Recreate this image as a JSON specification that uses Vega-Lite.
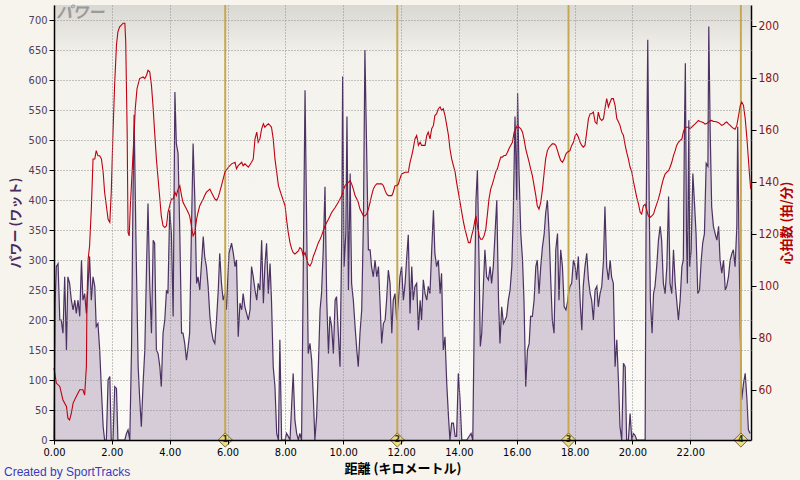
{
"$schema": "https://vega.github.io/schema/vega-lite/v6.json",
"width": 697, "height": 435,
"autosize": {"type": "none"},
"padding": {"left": 54, "top": 5, "right": 49, "bottom": 40},
"background": "#f6f4ec",
"title": {"text": "Created by SportTracks", "orient": "bottom", "anchor": "start", "frame": "group", "dx": -50, "offset": -8, "fontSize": 12, "fontWeight": "normal", "font": "Liberation Sans", "color": "#3a3ac0"},
"config": {
  "view": {"stroke": null, "fill": {"gradient": "linear", "x1": 0, "y1": 0, "x2": 0, "y2": 1, "stops": [{"offset": 0, "color": "#dad8d2"}, {"offset": 0.12, "color": "#f4f2ec"}, {"offset": 1, "color": "#fbfaf6"}]}},
  "axis": {"labelFont": "DejaVu Sans Condensed", "labelFontSize": 11, "labelOverlap": false, "labelFlush": false, "titleFont": "Noto Sans CJK JP", "titleFontSize": 13, "titleFontWeight": "bold", "domainColor": "#000000", "tickColor": "#000000", "gridColor": "#8e8e8e", "gridDash": [1, 2], "gridOpacity": 1}
},
"datasets": {
"power": [
{"km":0.00,"w":0},{"km":0.04,"w":230},{"km":0.08,"w":289},{"km":0.14,"w":294},{"km":0.20,"w":200},{"km":0.25,"w":200},{"km":0.31,"w":178},{"km":0.37,"w":272},{"km":0.43,"w":150},{"km":0.48,"w":272},{"km":0.54,"w":261},{"km":0.60,"w":233},{"km":0.66,"w":217},{"km":0.72,"w":233},{"km":0.77,"w":211},{"km":0.83,"w":233},{"km":0.89,"w":206},{"km":0.95,"w":300},{"km":1.00,"w":233},{"km":1.06,"w":244},{"km":1.12,"w":211},{"km":1.18,"w":261},{"km":1.23,"w":306},{"km":1.29,"w":233},{"km":1.35,"w":272},{"km":1.41,"w":256},{"km":1.46,"w":189},{"km":1.52,"w":194},{"km":1.58,"w":150},{"km":1.64,"w":83},{"km":1.70,"w":22},{"km":1.75,"w":0},{"km":1.81,"w":0},{"km":1.87,"w":100},{"km":1.93,"w":106},{"km":1.98,"w":0},{"km":2.04,"w":0},{"km":2.10,"w":89},{"km":2.16,"w":86},{"km":2.21,"w":0},{"km":2.45,"w":0},{"km":2.50,"w":10},{"km":2.56,"w":17},{"km":2.62,"w":0},{"km":2.68,"w":150},{"km":2.73,"w":400},{"km":2.77,"w":542},{"km":2.83,"w":344},{"km":2.87,"w":233},{"km":2.91,"w":122},{"km":2.96,"w":72},{"km":3.02,"w":22},{"km":3.08,"w":94},{"km":3.14,"w":150},{"km":3.20,"w":289},{"km":3.25,"w":394},{"km":3.31,"w":261},{"km":3.37,"w":178},{"km":3.43,"w":333},{"km":3.48,"w":328},{"km":3.54,"w":150},{"km":3.60,"w":144},{"km":3.66,"w":122},{"km":3.71,"w":89},{"km":3.77,"w":178},{"km":3.83,"w":200},{"km":3.89,"w":250},{"km":3.94,"w":244},{"km":4.00,"w":383},{"km":4.06,"w":344},{"km":4.12,"w":206},{"km":4.18,"w":580},{"km":4.23,"w":494},{"km":4.29,"w":478},{"km":4.35,"w":344},{"km":4.41,"w":178},{"km":4.46,"w":178},{"km":4.52,"w":161},{"km":4.58,"w":133},{"km":4.64,"w":156},{"km":4.69,"w":178},{"km":4.75,"w":344},{"km":4.81,"w":494},{"km":4.87,"w":400},{"km":4.93,"w":261},{"km":4.98,"w":272},{"km":5.04,"w":250},{"km":5.10,"w":294},{"km":5.16,"w":339},{"km":5.21,"w":306},{"km":5.27,"w":289},{"km":5.33,"w":256},{"km":5.39,"w":206},{"km":5.44,"w":183},{"km":5.50,"w":167},{"km":5.56,"w":161},{"km":5.62,"w":200},{"km":5.68,"w":250},{"km":5.73,"w":311},{"km":5.79,"w":261},{"km":5.85,"w":233},{"km":5.91,"w":244},{"km":5.96,"w":217},
{"km":6.05,"w":311},{"km":6.14,"w":328},{"km":6.20,"w":311},{"km":6.26,"w":289},{"km":6.31,"w":300},{"km":6.37,"w":172},{"km":6.43,"w":228},{"km":6.49,"w":217},{"km":6.54,"w":244},{"km":6.60,"w":222},{"km":6.66,"w":211},{"km":6.72,"w":200},{"km":6.78,"w":217},{"km":6.83,"w":289},{"km":6.89,"w":272},{"km":6.95,"w":250},{"km":7.01,"w":233},{"km":7.06,"w":261},{"km":7.12,"w":250},{"km":7.18,"w":333},{"km":7.24,"w":228},{"km":7.29,"w":289},{"km":7.35,"w":328},{"km":7.41,"w":244},{"km":7.47,"w":294},{"km":7.52,"w":233},{"km":7.58,"w":122},{"km":7.64,"w":89},{"km":7.70,"w":11},{"km":7.76,"w":0},{"km":7.81,"w":167},{"km":7.87,"w":0},{"km":7.99,"w":0},{"km":8.04,"w":11},{"km":8.10,"w":6},{"km":8.16,"w":0},{"km":8.22,"w":61},{"km":8.27,"w":111},{"km":8.33,"w":33},{"km":8.39,"w":11},{"km":8.45,"w":0},{"km":8.50,"w":11},{"km":8.56,"w":0},{"km":8.62,"w":289},{"km":8.68,"w":583},{"km":8.74,"w":344},{"km":8.79,"w":144},{"km":8.85,"w":161},{"km":8.91,"w":133},{"km":8.97,"w":67},{"km":9.02,"w":0},{"km":9.08,"w":39},{"km":9.14,"w":122},{"km":9.20,"w":217},{"km":9.25,"w":244},{"km":9.31,"w":317},{"km":9.37,"w":422},{"km":9.43,"w":233},{"km":9.49,"w":144},{"km":9.54,"w":206},{"km":9.60,"w":189},{"km":9.66,"w":144},{"km":9.72,"w":233},{"km":9.77,"w":239},{"km":9.83,"w":178},{"km":9.89,"w":122},{"km":9.95,"w":344},{"km":9.98,"w":606},{"km":10.03,"w":289},{"km":10.09,"w":344},{"km":10.13,"w":539},{"km":10.18,"w":250},{"km":10.24,"w":444},{"km":10.29,"w":261},{"km":10.35,"w":233},{"km":10.41,"w":189},{"km":10.47,"w":150},{"km":10.52,"w":122},{"km":10.58,"w":178},{"km":10.64,"w":217},{"km":10.70,"w":367},{"km":10.75,"w":650},{"km":10.81,"w":483},{"km":10.87,"w":317},{"km":10.93,"w":317},{"km":10.98,"w":289},{"km":11.04,"w":272},{"km":11.10,"w":300},{"km":11.16,"w":272},{"km":11.22,"w":289},{"km":11.27,"w":233},{"km":11.33,"w":161},{"km":11.39,"w":194},{"km":11.45,"w":200},{"km":11.50,"w":233},{"km":11.56,"w":283},{"km":11.62,"w":261},{"km":11.68,"w":178},{"km":11.73,"w":233},{"km":11.79,"w":244},{"km":11.85,"w":200},
{"km":11.91,"w":233},{"km":11.96,"w":272},{"km":12.02,"w":289},{"km":12.08,"w":233},{"km":12.14,"w":261},{"km":12.19,"w":300},{"km":12.25,"w":342},{"km":12.31,"w":211},{"km":12.37,"w":289},{"km":12.42,"w":233},{"km":12.48,"w":256},{"km":12.54,"w":261},{"km":12.60,"w":183},{"km":12.66,"w":233},{"km":12.71,"w":200},{"km":12.77,"w":267},{"km":12.83,"w":244},{"km":12.89,"w":233},{"km":12.94,"w":256},{"km":13.00,"w":244},{"km":13.06,"w":317},{"km":13.12,"w":383},{"km":13.17,"w":311},{"km":13.23,"w":289},{"km":13.29,"w":300},{"km":13.35,"w":244},{"km":13.40,"w":278},{"km":13.46,"w":150},{"km":13.52,"w":172},{"km":13.58,"w":94},{"km":13.64,"w":39},{"km":13.69,"w":0},{"km":13.75,"w":28},{"km":13.81,"w":28},{"km":13.87,"w":6},{"km":13.92,"w":6},{"km":13.98,"w":111},{"km":14.04,"w":67},{"km":14.10,"w":0},{"km":14.27,"w":0},{"km":14.42,"w":11},{"km":14.48,"w":0},{"km":14.54,"w":233},{"km":14.59,"w":400},{"km":14.64,"w":450},{"km":14.70,"w":289},{"km":14.74,"w":156},{"km":14.79,"w":178},{"km":14.85,"w":261},{"km":14.90,"w":317},{"km":14.96,"w":272},{"km":15.02,"w":267},{"km":15.08,"w":289},{"km":15.13,"w":261},{"km":15.19,"w":289},{"km":15.25,"w":344},{"km":15.31,"w":400},{"km":15.37,"w":233},{"km":15.42,"w":161},{"km":15.48,"w":222},{"km":15.54,"w":194},{"km":15.60,"w":200},{"km":15.65,"w":206},{"km":15.71,"w":233},{"km":15.77,"w":250},{"km":15.83,"w":289},{"km":15.88,"w":378},{"km":15.94,"w":539},{"km":16.00,"w":400},{"km":16.03,"w":578},{"km":16.08,"w":444},{"km":16.14,"w":344},{"km":16.20,"w":300},{"km":16.25,"w":233},{"km":16.31,"w":89},{"km":16.37,"w":150},{"km":16.43,"w":161},{"km":16.48,"w":206},{"km":16.54,"w":206},{"km":16.60,"w":233},{"km":16.66,"w":289},{"km":16.71,"w":300},{"km":16.77,"w":244},{"km":16.83,"w":289},{"km":16.89,"w":322},{"km":16.95,"w":344},{"km":17.00,"w":378},{"km":17.06,"w":400},{"km":17.12,"w":344},{"km":17.18,"w":261},{"km":17.23,"w":200},{"km":17.29,"w":178},{"km":17.35,"w":317},{"km":17.41,"w":344},{"km":17.46,"w":233},{"km":17.52,"w":317},{"km":17.58,"w":289},{"km":17.64,"w":222},{"km":17.70,"w":217},{"km":17.75,"w":228},
{"km":17.79,"w":244},{"km":17.84,"w":256},{"km":17.90,"w":261},{"km":17.96,"w":300},{"km":18.02,"w":289},{"km":18.07,"w":267},{"km":18.13,"w":306},{"km":18.19,"w":233},{"km":18.25,"w":183},{"km":18.30,"w":256},{"km":18.36,"w":289},{"km":18.42,"w":311},{"km":18.48,"w":267},{"km":18.54,"w":244},{"km":18.59,"w":233},{"km":18.65,"w":200},{"km":18.71,"w":250},{"km":18.77,"w":256},{"km":18.82,"w":222},{"km":18.88,"w":244},{"km":18.94,"w":256},{"km":19.00,"w":300},{"km":19.05,"w":389},{"km":19.11,"w":289},{"km":19.17,"w":267},{"km":19.23,"w":300},{"km":19.28,"w":272},{"km":19.34,"w":261},{"km":19.40,"w":122},{"km":19.46,"w":167},{"km":19.52,"w":94},{"km":19.57,"w":22},{"km":19.63,"w":0},{"km":19.69,"w":128},{"km":19.75,"w":122},{"km":19.80,"w":0},{"km":19.86,"w":0},{"km":19.92,"w":44},{"km":19.98,"w":0},{"km":20.03,"w":11},{"km":20.09,"w":8},{"km":20.15,"w":0},{"km":20.44,"w":0},{"km":20.47,"w":344},{"km":20.53,"w":667},{"km":20.58,"w":400},{"km":20.62,"w":233},{"km":20.68,"w":178},{"km":20.73,"w":244},{"km":20.78,"w":256},{"km":20.84,"w":289},{"km":20.90,"w":333},{"km":20.96,"w":356},{"km":21.01,"w":333},{"km":21.07,"w":261},{"km":21.13,"w":244},{"km":21.19,"w":289},{"km":21.25,"w":406},{"km":21.30,"w":261},{"km":21.36,"w":244},{"km":21.42,"w":317},{"km":21.48,"w":261},{"km":21.53,"w":233},{"km":21.59,"w":200},{"km":21.65,"w":233},{"km":21.71,"w":289},{"km":21.76,"w":300},{"km":21.80,"w":522},{"km":21.83,"w":628},{"km":21.87,"w":344},{"km":21.90,"w":261},{"km":21.95,"w":533},{"km":21.98,"w":289},{"km":22.03,"w":317},{"km":22.09,"w":444},{"km":22.14,"w":400},{"km":22.20,"w":344},{"km":22.26,"w":244},{"km":22.32,"w":250},{"km":22.38,"w":300},{"km":22.43,"w":328},{"km":22.49,"w":344},{"km":22.55,"w":461},{"km":22.61,"w":456},{"km":22.64,"w":689},{"km":22.69,"w":511},{"km":22.74,"w":389},{"km":22.80,"w":356},{"km":22.86,"w":344},{"km":22.92,"w":333},{"km":22.98,"w":356},{"km":23.03,"w":300},{"km":23.09,"w":278},{"km":23.15,"w":300},{"km":23.21,"w":250},{"km":23.26,"w":256},{"km":23.32,"w":272},{"km":23.38,"w":300},{"km":23.44,"w":311},{"km":23.49,"w":317},{"km":23.55,"w":289},{"km":23.61,"w":356},{"km":23.64,"w":522},{"km":23.68,"w":344},{"km":23.73,"w":178},{"km":23.78,"w":67},{"km":23.84,"w":94},{"km":23.90,"w":111},{"km":23.96,"w":67},{"km":24.01,"w":17},{"km":24.07,"w":11}
],
"hr": [
{"km":0.00,"bpm":68.4},{"km":0.08,"bpm":62.6},{"km":0.20,"bpm":61.3},{"km":0.31,"bpm":56.1},{"km":0.43,"bpm":53.6},{"km":0.48,"bpm":49.1},{"km":0.54,"bpm":48.4},{"km":0.60,"bpm":51},{"km":0.66,"bpm":54.9},{"km":0.77,"bpm":57.4},{"km":0.89,"bpm":60},{"km":1.00,"bpm":60},{"km":1.06,"bpm":58},{"km":1.12,"bpm":69},{"km":1.14,"bpm":94.8},{"km":1.18,"bpm":110.2},{"km":1.23,"bpm":115.3},{"km":1.29,"bpm":129.5},{"km":1.35,"bpm":148.8},{"km":1.41,"bpm":148.8},{"km":1.46,"bpm":152},{"km":1.52,"bpm":150},{"km":1.58,"bpm":150},{"km":1.64,"bpm":148.8},{"km":1.70,"bpm":143.7},{"km":1.75,"bpm":136},{"km":1.81,"bpm":130.8},{"km":1.87,"bpm":125.6},{"km":1.93,"bpm":124.4},{"km":1.98,"bpm":136},{"km":2.04,"bpm":159.1},{"km":2.10,"bpm":178.4},{"km":2.16,"bpm":192.6},{"km":2.21,"bpm":197.7},{"km":2.27,"bpm":199.6},{"km":2.33,"bpm":200.3},{"km":2.39,"bpm":201},{"km":2.45,"bpm":201},{"km":2.48,"bpm":193.9},{"km":2.53,"bpm":159.1},{"km":2.56,"bpm":120.5},{"km":2.60,"bpm":119.2},{"km":2.64,"bpm":130.8},{"km":2.70,"bpm":143.7},{"km":2.76,"bpm":156.5},{"km":2.81,"bpm":168.1},{"km":2.87,"bpm":175.8},{"km":2.96,"bpm":179.7},{"km":3.08,"bpm":180.3},{"km":3.14,"bpm":179.7},{"km":3.20,"bpm":181},{"km":3.25,"bpm":182.9},{"km":3.31,"bpm":182.3},{"km":3.37,"bpm":177.1},{"km":3.43,"bpm":168.1},{"km":3.48,"bpm":159.1},{"km":3.54,"bpm":148.8},{"km":3.60,"bpm":141.1},{"km":3.66,"bpm":133.4},{"km":3.71,"bpm":126.9},{"km":3.77,"bpm":123.1},{"km":3.83,"bpm":122.4},{"km":3.89,"bpm":123.1},{"km":3.94,"bpm":128.2},{"km":4.00,"bpm":130.8},{"km":4.06,"bpm":133.4},{"km":4.12,"bpm":133.4},{"km":4.18,"bpm":136},{"km":4.23,"bpm":134.7},{"km":4.29,"bpm":137.2},{"km":4.35,"bpm":138.5},{"km":4.41,"bpm":134.7},{"km":4.46,"bpm":132.1},{"km":4.58,"bpm":129.5},{"km":4.64,"bpm":128.2},{"km":4.69,"bpm":126.9},{"km":4.75,"bpm":123.1},{"km":4.81,"bpm":119.2},{"km":4.87,"bpm":120.5},{"km":4.93,"bpm":125.6},{"km":4.98,"bpm":128.2},{"km":5.04,"bpm":130.8},{"km":5.10,"bpm":132.1},{"km":5.16,"bpm":133.4},{"km":5.21,"bpm":134.7},{"km":5.27,"bpm":136},{"km":5.33,"bpm":136.6},{"km":5.39,"bpm":137.2},{"km":5.44,"bpm":136},{"km":5.50,"bpm":134.7},{"km":5.56,"bpm":133.4},{"km":5.62,"bpm":132.8},{"km":5.68,"bpm":134.1},{"km":5.73,"bpm":136},{"km":5.79,"bpm":138.5},{"km":5.85,"bpm":141.1},{"km":5.91,"bpm":143.7},
{"km":6.03,"bpm":145.6},{"km":6.14,"bpm":146.9},{"km":6.26,"bpm":147.5},{"km":6.31,"bpm":145},{"km":6.37,"bpm":146.2},{"km":6.49,"bpm":147.5},{"km":6.54,"bpm":146.2},{"km":6.60,"bpm":146.9},{"km":6.72,"bpm":145.6},{"km":6.83,"bpm":147.5},{"km":6.89,"bpm":148.8},{"km":6.95,"bpm":156.5},{"km":7.01,"bpm":159.1},{"km":7.06,"bpm":155.2},{"km":7.12,"bpm":156.5},{"km":7.18,"bpm":160.4},{"km":7.24,"bpm":162.3},{"km":7.29,"bpm":161},{"km":7.35,"bpm":161.7},{"km":7.41,"bpm":162.3},{"km":7.47,"bpm":161.7},{"km":7.52,"bpm":161},{"km":7.58,"bpm":156.5},{"km":7.64,"bpm":148.8},{"km":7.70,"bpm":143.7},{"km":7.76,"bpm":138.5},{"km":7.87,"bpm":134.7},{"km":7.99,"bpm":130.8},{"km":8.04,"bpm":125.6},{"km":8.10,"bpm":120.5},{"km":8.16,"bpm":116.6},{"km":8.22,"bpm":114.1},{"km":8.27,"bpm":112.8},{"km":8.33,"bpm":112.2},{"km":8.39,"bpm":112.8},{"km":8.45,"bpm":113.4},{"km":8.50,"bpm":114.7},{"km":8.56,"bpm":114.1},{"km":8.62,"bpm":111.5},{"km":8.68,"bpm":112.8},{"km":8.74,"bpm":110.2},{"km":8.79,"bpm":108.3},{"km":8.85,"bpm":107.6},{"km":8.91,"bpm":108.9},{"km":8.97,"bpm":111.5},{"km":9.02,"bpm":112.8},{"km":9.08,"bpm":114.7},{"km":9.14,"bpm":116.6},{"km":9.20,"bpm":117.9},{"km":9.25,"bpm":119.2},{"km":9.37,"bpm":123.1},{"km":9.49,"bpm":125.6},{"km":9.60,"bpm":128.2},{"km":9.72,"bpm":130.1},{"km":9.83,"bpm":132.1},{"km":9.89,"bpm":133.4},{"km":9.95,"bpm":134.7},{"km":10.00,"bpm":136.6},{"km":10.06,"bpm":138.5},{"km":10.12,"bpm":139.2},{"km":10.18,"bpm":139.8},{"km":10.24,"bpm":140.4},{"km":10.29,"bpm":139.2},{"km":10.35,"bpm":137.2},{"km":10.41,"bpm":134.7},{"km":10.47,"bpm":133.4},{"km":10.52,"bpm":132.1},{"km":10.58,"bpm":129.5},{"km":10.64,"bpm":128.2},{"km":10.70,"bpm":126.9},{"km":10.75,"bpm":126.9},{"km":10.81,"bpm":127.6},{"km":10.87,"bpm":129.5},{"km":10.93,"bpm":132.1},{"km":10.98,"bpm":134.7},{"km":11.04,"bpm":137.2},{"km":11.10,"bpm":138.5},{"km":11.16,"bpm":139.2},{"km":11.22,"bpm":139.2},{"km":11.27,"bpm":139.2},{"km":11.33,"bpm":139.2},{"km":11.39,"bpm":138.5},{"km":11.45,"bpm":136.6},{"km":11.50,"bpm":135.3},{"km":11.56,"bpm":134.7},{"km":11.62,"bpm":134.7},{"km":11.68,"bpm":134.7},{"km":11.73,"bpm":136},{"km":11.79,"bpm":138.5},{"km":11.85,"bpm":138.5},
{"km":11.91,"bpm":139.2},{"km":11.96,"bpm":141.1},{"km":12.02,"bpm":143},{"km":12.14,"bpm":143.7},{"km":12.25,"bpm":143.7},{"km":12.31,"bpm":147.5},{"km":12.37,"bpm":150.1},{"km":12.42,"bpm":152.7},{"km":12.48,"bpm":156.5},{"km":12.54,"bpm":157.8},{"km":12.60,"bpm":154},{"km":12.66,"bpm":155.2},{"km":12.71,"bpm":154},{"km":12.83,"bpm":154},{"km":12.89,"bpm":157.8},{"km":12.94,"bpm":159.1},{"km":13.00,"bpm":156.5},{"km":13.06,"bpm":160.4},{"km":13.12,"bpm":161.7},{"km":13.17,"bpm":165.5},{"km":13.23,"bpm":166.2},{"km":13.29,"bpm":168.1},{"km":13.35,"bpm":168.8},{"km":13.40,"bpm":167.5},{"km":13.46,"bpm":168.1},{"km":13.52,"bpm":165.5},{"km":13.58,"bpm":161.7},{"km":13.64,"bpm":157.8},{"km":13.69,"bpm":152.7},{"km":13.75,"bpm":148.8},{"km":13.81,"bpm":146.2},{"km":13.87,"bpm":143.7},{"km":13.92,"bpm":139.8},{"km":13.98,"bpm":136},{"km":14.04,"bpm":132.1},{"km":14.10,"bpm":128.2},{"km":14.16,"bpm":124.4},{"km":14.21,"bpm":121.8},{"km":14.27,"bpm":119.2},{"km":14.33,"bpm":116.6},{"km":14.39,"bpm":116.6},{"km":14.44,"bpm":119.2},{"km":14.50,"bpm":121.8},{"km":14.56,"bpm":125.6},{"km":14.59,"bpm":126.9},{"km":14.64,"bpm":123.1},{"km":14.70,"bpm":119.2},{"km":14.75,"bpm":117.9},{"km":14.81,"bpm":117.9},{"km":14.87,"bpm":119.2},{"km":14.93,"bpm":121.8},{"km":14.98,"bpm":126.9},{"km":15.04,"bpm":133.4},{"km":15.10,"bpm":137.2},{"km":15.16,"bpm":139.2},{"km":15.21,"bpm":141.1},{"km":15.27,"bpm":143.7},{"km":15.33,"bpm":145},{"km":15.39,"bpm":147.5},{"km":15.45,"bpm":149.5},{"km":15.50,"bpm":149.5},{"km":15.56,"bpm":150.1},{"km":15.62,"bpm":150.1},{"km":15.68,"bpm":151.4},{"km":15.73,"bpm":152.7},{"km":15.79,"bpm":154},{"km":15.85,"bpm":155.2},{"km":15.91,"bpm":159.1},{"km":15.97,"bpm":160.4},{"km":16.02,"bpm":161.7},{"km":16.08,"bpm":161},{"km":16.14,"bpm":160.4},{"km":16.20,"bpm":159.1},{"km":16.25,"bpm":156.5},{"km":16.31,"bpm":152.7},{"km":16.37,"bpm":150.1},{"km":16.43,"bpm":147.5},{"km":16.48,"bpm":145},{"km":16.54,"bpm":142.4},{"km":16.60,"bpm":138.5},{"km":16.66,"bpm":134.7},{"km":16.71,"bpm":130.8},{"km":16.77,"bpm":129.5},{"km":16.83,"bpm":132.1},{"km":16.89,"bpm":137.2},{"km":16.95,"bpm":143.7},{"km":17.00,"bpm":148.8},{"km":17.06,"bpm":152},{"km":17.12,"bpm":153.3},{"km":17.18,"bpm":154},{"km":17.23,"bpm":154.6},{"km":17.29,"bpm":154.6},{"km":17.35,"bpm":154},{"km":17.41,"bpm":152},{"km":17.46,"bpm":150.1},{"km":17.52,"bpm":148.2},{"km":17.58,"bpm":147.5},{"km":17.64,"bpm":148.8},{"km":17.70,"bpm":150.7},{"km":17.75,"bpm":151.4},
{"km":17.84,"bpm":152},{"km":17.90,"bpm":154},{"km":17.96,"bpm":155.2},{"km":18.02,"bpm":157.8},{"km":18.07,"bpm":158.5},{"km":18.13,"bpm":157.2},{"km":18.19,"bpm":155.2},{"km":18.25,"bpm":154},{"km":18.30,"bpm":153.3},{"km":18.36,"bpm":154},{"km":18.42,"bpm":159.1},{"km":18.48,"bpm":164.3},{"km":18.54,"bpm":166.2},{"km":18.59,"bpm":166.2},{"km":18.65,"bpm":166.8},{"km":18.71,"bpm":163},{"km":18.77,"bpm":162.3},{"km":18.82,"bpm":166.8},{"km":18.88,"bpm":164.3},{"km":18.94,"bpm":163.6},{"km":19.00,"bpm":164.3},{"km":19.05,"bpm":168.1},{"km":19.11,"bpm":172},{"km":19.17,"bpm":168.8},{"km":19.23,"bpm":170.7},{"km":19.28,"bpm":172},{"km":19.34,"bpm":172},{"km":19.40,"bpm":169.4},{"km":19.46,"bpm":164.3},{"km":19.52,"bpm":163},{"km":19.57,"bpm":161.7},{"km":19.63,"bpm":159.1},{"km":19.69,"bpm":157.8},{"km":19.75,"bpm":154},{"km":19.80,"bpm":151.4},{"km":19.86,"bpm":148.8},{"km":19.92,"bpm":145.6},{"km":19.98,"bpm":143.7},{"km":20.03,"bpm":140.4},{"km":20.09,"bpm":137.2},{"km":20.15,"bpm":134},{"km":20.21,"bpm":131.4},{"km":20.27,"bpm":128.2},{"km":20.32,"bpm":127.6},{"km":20.38,"bpm":130.8},{"km":20.44,"bpm":131.4},{"km":20.50,"bpm":128.9},{"km":20.55,"bpm":126.9},{"km":20.61,"bpm":126.3},{"km":20.67,"bpm":126.9},{"km":20.73,"bpm":127.6},{"km":20.78,"bpm":129.5},{"km":20.84,"bpm":131.4},{"km":20.90,"bpm":133.4},{"km":20.96,"bpm":136},{"km":21.01,"bpm":138.5},{"km":21.07,"bpm":141.1},{"km":21.13,"bpm":143},{"km":21.19,"bpm":143.7},{"km":21.25,"bpm":144.3},{"km":21.30,"bpm":145.6},{"km":21.36,"bpm":147.5},{"km":21.42,"bpm":150.1},{"km":21.48,"bpm":152},{"km":21.53,"bpm":154},{"km":21.59,"bpm":155.2},{"km":21.65,"bpm":155.9},{"km":21.71,"bpm":156.5},{"km":21.76,"bpm":159.1},{"km":21.82,"bpm":161},{"km":21.88,"bpm":161},{"km":21.94,"bpm":161},{"km":21.99,"bpm":160.4},{"km":22.05,"bpm":161},{"km":22.11,"bpm":161.7},{"km":22.17,"bpm":162.3},{"km":22.23,"bpm":163},{"km":22.28,"bpm":163.6},{"km":22.34,"bpm":163.2},{"km":22.40,"bpm":163},{"km":22.46,"bpm":162.7},{"km":22.51,"bpm":162.2},{"km":22.57,"bpm":162.4},{"km":22.63,"bpm":163},{"km":22.69,"bpm":163.5},{"km":22.74,"bpm":163.6},{"km":22.80,"bpm":163.2},{"km":22.86,"bpm":163.2},{"km":22.92,"bpm":163},{"km":22.98,"bpm":162.7},{"km":23.03,"bpm":162.3},{"km":23.09,"bpm":161.7},{"km":23.15,"bpm":162},{"km":23.21,"bpm":162.7},{"km":23.26,"bpm":163},{"km":23.32,"bpm":162.3},{"km":23.38,"bpm":161.7},{"km":23.44,"bpm":161},{"km":23.49,"bpm":160.6},{"km":23.55,"bpm":160.2},{"km":23.61,"bpm":161.7},{"km":23.67,"bpm":165.5},{"km":23.73,"bpm":169.4},{"km":23.78,"bpm":170.7},{"km":23.84,"bpm":169.4},{"km":23.90,"bpm":164.3},{"km":23.96,"bpm":156.5},{"km":24.01,"bpm":148.8},{"km":24.05,"bpm":142.4},{"km":24.09,"bpm":137.2}
],
"laps": [{"km":5.92,"n":"1"},{"km":11.87,"n":"2"},{"km":17.79,"n":"3"},{"km":23.75,"n":"4"}]
},
"layer": [
 {
  "layer": [
   {
    "data": {"name": "power"},
    "mark": {"type": "area", "color": "#d6ccd8", "opacity": 1, "line": {"color": "#4b3262", "strokeWidth": 1.2}},
    "encoding": {
      "x": {"field": "km", "type": "quantitative", "scale": {"domain": [0, 24.1], "nice": false, "zero": false},
        "axis": {"values": [0,2,4,6,8,10,12,14,16,18,20,22], "format": ".2f", "grid": true, "zindex": 1, "tickSize": 4, "labelOverlap": false, "labelFlush": false, "labelColor": "#000000", "labelFontSize": 11, "labelPadding": 2, "domainWidth": 1.5, "title": "距離 (キロメートル)", "titleColor": "#000000", "titlePadding": 5}},
      "y": {"field": "w", "type": "quantitative", "scale": {"domain": [0, 725], "nice": false},
        "axis": {"values": [0,50,100,150,200,250,300,350,400,450,500,550,600,650,700], "grid": true, "zindex": 1, "tickSize": 5, "labelOverlap": false, "labelFlush": false, "labelColor": "#4e405e", "labelPadding": 2, "domainWidth": 1.5, "title": "パワー (ワット)", "titleColor": "#4b2a5e", "titlePadding": 6}}
    }
   },
   {
    "data": {"name": "laps"},
    "mark": {"type": "rule", "color": "#c6a852", "strokeWidth": 2},
    "encoding": {"x": {"field": "km", "type": "quantitative"}}
   },
   {
    "data": {"name": "laps"},
    "mark": {"type": "point", "shape": "diamond", "filled": true, "size": 200, "fill": "#eedc88", "stroke": "#7a6a30", "strokeWidth": 1, "opacity": 1},
    "encoding": {"x": {"field": "km", "type": "quantitative"}, "y": {"datum": 0, "type": "quantitative",
        "axis": {"values": [0,50,100,150,200,250,300,350,400,450,500,550,600,650,700], "grid": true, "zindex": 1, "tickSize": 5, "labelOverlap": false, "labelFlush": false, "labelColor": "#4e405e", "labelPadding": 2, "domainWidth": 1.5, "title": "パワー (ワット)", "titleColor": "#4b2a5e", "titlePadding": 6}}}
   },
   {
    "data": {"name": "laps"},
    "mark": {"type": "text", "fontSize": 8, "fontWeight": "bold", "font": "DejaVu Sans", "color": "#3a3010", "baseline": "middle", "align": "center"},
    "encoding": {"x": {"field": "km", "type": "quantitative"}, "y": {"datum": 0, "type": "quantitative",
        "axis": {"values": [0,50,100,150,200,250,300,350,400,450,500,550,600,650,700], "grid": true, "zindex": 1, "tickSize": 5, "labelOverlap": false, "labelFlush": false, "labelColor": "#4e405e", "labelPadding": 2, "domainWidth": 1.5, "title": "パワー (ワット)", "titleColor": "#4b2a5e", "titlePadding": 6}}, "text": {"field": "n"}}
   },
   {
    "data": {"values": [{"label": "パワー"}]},
    "mark": {"type": "text", "align": "left", "baseline": "top", "fontSize": 16, "fontStyle": "italic", "fontWeight": "bold", "font": "Noto Sans CJK JP", "color": "#9a9a9a"},
    "encoding": {"x": {"datum": 0.08, "type": "quantitative"}, "y": {"datum": 725, "type": "quantitative",
        "axis": {"values": [0,50,100,150,200,250,300,350,400,450,500,550,600,650,700], "grid": true, "zindex": 1, "tickSize": 5, "labelOverlap": false, "labelFlush": false, "labelColor": "#4e405e", "labelPadding": 2, "domainWidth": 1.5, "title": "パワー (ワット)", "titleColor": "#4b2a5e", "titlePadding": 6}}, "text": {"field": "label"}}
   }
  ]
 },
 {
  "data": {"name": "hr"},
  "mark": {"type": "line", "color": "#c00010", "strokeWidth": 1.1},
  "encoding": {
    "x": {"field": "km", "type": "quantitative"},
    "y": {"field": "bpm", "type": "quantitative", "scale": {"domain": [40.7, 208], "nice": false, "zero": false},
      "axis": {"orient": "right", "values": [60,80,100,120,140,160,180,200], "grid": false, "tickSize": 5, "labelOverlap": false, "labelFlush": false, "labelFontSize": 12, "labelColor": "#8a1414", "labelPadding": 2, "domainWidth": 1.5, "title": "心拍数 (拍/分)", "titleColor": "#b40000", "titleAngle": 270, "titleBaseline": "top", "titlePadding": 2}}
  }
 }
],
"resolve": {"scale": {"y": "independent"}, "axis": {"y": "independent"}}
}
